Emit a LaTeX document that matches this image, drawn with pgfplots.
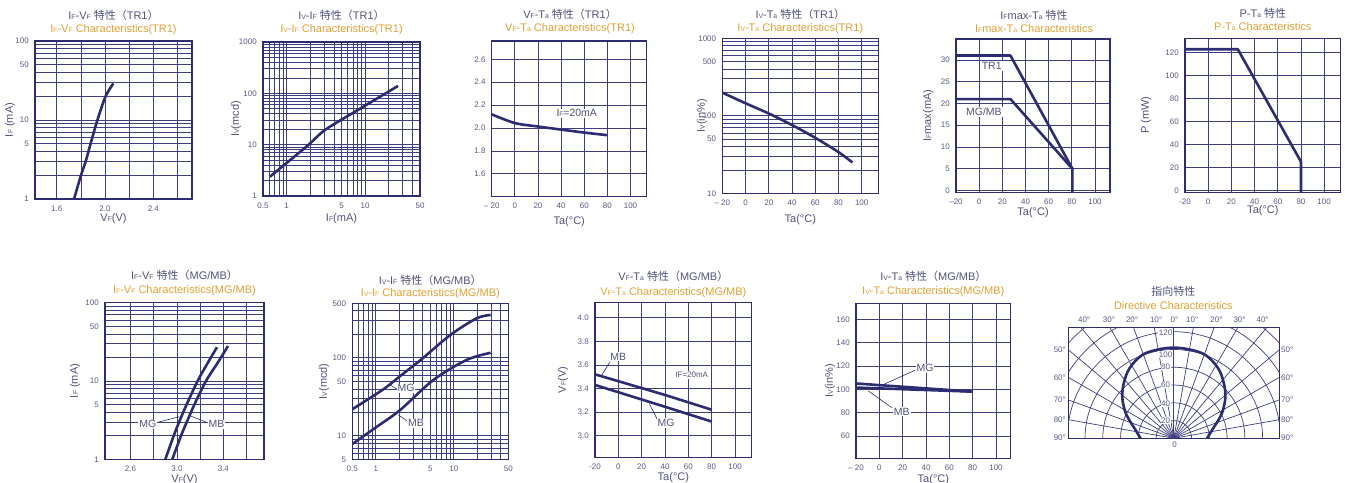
\documentclass[border=0pt]{standalone}
\usepackage{graphicx}
\usepackage{pgfplots}
\pgfplotsset{compat=1.18}
\usepackage{fontspec}
\setmainfont{Liberation Sans}
\newfontfamily\cjk{Noto Sans CJK JP}
\definecolor{navy}{RGB}{44,44,112}
\definecolor{gridc}{RGB}{62,62,128}
\definecolor{titc}{RGB}{82,82,125}
\definecolor{tickc}{RGB}{88,88,135}
\definecolor{orng}{RGB}{226,160,52}
\newcommand\sm[1]{\scalebox{0.62}{#1}}
\newcommand\tickf{\fontsize{8bp}{9bp}\selectfont}
\newcommand\labf{\fontsize{11bp}{12bp}\selectfont}
\newcommand\lblf{\fontsize{10.5bp}{12bp}\selectfont}
\newcommand\tita{\fontsize{11bp}{12bp}\selectfont}
\newcommand\titb{\fontsize{11bp}{12bp}\selectfont}
\newcommand\ttl[5]{\node[text=titc,font=\tita,inner sep=0] at (#1bp,#2bp) {#4};
  \node[text=orng,font=\titb,inner sep=0] at (#1bp,#3bp) {#5};}
\tikzset{lbl/.style={fill=white,inner sep=1bp,text=titc,font=\lblf},
  pl/.style={font=\tickf,text=tickc},
  rl/.style={fill=white,inner sep=0.6bp,font=\tickf,text=tickc}}
\pgfplotsset{
 panel/.style={scale only axis, anchor=south west,
   axis line style={navy,line width=1.2bp},
   grid=both, major grid style={gridc,line width=0.7bp}, minor grid style={gridc,line width=0.7bp},
   major tick length=0pt, minor tick length=0pt,
   tick label style={font=\tickf,text=tickc},
   xticklabel style={yshift=-3bp}, yticklabel style={xshift=-2.7bp},
   label style={font=\labf,text=titc},
   /pgf/number format/assume math mode=true},
 xl/.style={xlabel style={at={(axis description cs:0.5,#1)},anchor=center}},
 yl/.style={ylabel style={at={(axis description cs:#1,0.5)},anchor=center}},
 crv/.style={navy,line width=2.6bp,no markers,line join=round},
 ldr/.style={navy,line width=0.6bp,no markers},
}
\begin{document}
\begin{tikzpicture}[x=1bp,y=1bp]
\path[use as bounding box] (0,0) rectangle (1345,483);

% ---------- P1 IF-VF TR1
\begin{axis}[panel, at={(35bp,284bp)}, width=157bp, height=158bp,
 xmin=1.42, xmax=2.72, ymode=log, ymin=1, ymax=100,
 xtick={1.6,2.0,2.4}, xticklabels={1.6,2.0,2.4}, minor xtick={1.8,2.2,2.6},
 ytick={1,5,10,50,100}, yticklabels={1,5,10,50,100},
 minor ytick={2,3,4,6,7,8,9,20,30,40,60,70,80,90},
 xlabel={V\sm{F}(V)}, ylabel={I\sm{F} (mA)}, xl=-0.122, yl=-0.159]
\addplot[crv,smooth] coordinates {(1.743,1) (1.801,2) (1.84,3) (1.88,5) (1.937,10) (2.005,20) (2.069,29)};
\end{axis}

% ---------- P2 IV-IF TR1
\begin{axis}[panel, at={(263bp,287bp)}, width=157bp, height=154bp,
 xmode=log, ymode=log, xmin=0.5, xmax=50, ymin=1, ymax=1000,
 xtick={0.5,1,5,10,50}, xticklabels={0.5,1,5,10,50},
 minor xtick={0.6,0.7,0.8,0.9,2,3,4,6,7,8,9,20,30,40},
 ytick={1,10,100,1000}, yticklabels={1,10,100,1000},
 minor ytick={2,3,4,5,6,7,8,9,20,30,40,50,60,70,80,90,200,300,400,500,600,700,800,900},
 xlabel={I\sm{F}(mA)}, ylabel={I\sm{V}(mcd)}, xl=-0.145, yl=-0.172]
\addplot[crv,smooth] coordinates {(0.614,2.38) (1,4.4) (1.89,9.85) (3.09,19.4) (7.45,44) (26.2,139)};
\end{axis}

% ---------- P3 VF-Ta TR1
\begin{axis}[panel, at={(491.7bp,286.3bp)}, width=155bp, height=155.7bp,
 xmin=-20, xmax=114, ymin=1.4, ymax=2.76,
 xtick={-20,0,20,40,60,80,100}, xticklabels={– 20,0,20,40,60,80,100},
 ytick={1.6,1.8,2.0,2.2,2.4,2.6}, yticklabels={1.6,1.8,2.0,2.2,2.4,2.6},
 xlabel={Ta(°C)}, xl=-0.161]
\addplot[crv,smooth] coordinates {(-20,2.119) (0,2.043) (20,2.013) (40,1.986) (60,1.96) (80,1.937)};
\node[lbl] at (axis cs:53.5,2.128) {I\sm{F}=20mA};
\end{axis}

% ---------- P4 IV-Ta TR1
\begin{axis}[panel, at={(722.3bp,289.7bp)}, width=156bp, height=155bp,
 xmin=-20, xmax=114.3, ymode=log, ymin=10, ymax=1000,
 xtick={-20,0,20,40,60,80,100}, xticklabels={– 20,0,20,40,60,80,100},
 ytick={10,50,100,500,1000}, yticklabels={10,50,100,500,1000},
 minor ytick={20,30,40,60,70,80,90,200,300,400,600,700,800,900},
 xlabel={Ta(°C)}, ylabel={I\sm{V}(in\%)}, xl=-0.172, yl=-0.13]
\addplot[crv,smooth] coordinates {(-20,199) (0,145) (20,107) (40,76) (60,52) (80,34) (92,25)};
\end{axis}

% ---------- P5 IFmax-Ta
\begin{axis}[panel, at={(956bp,290.7bp)}, width=154bp, height=153.3bp,
 xmin=-20, xmax=113, ymin=-0.4, ymax=34.8,
 xtick={-20,0,20,40,60,80,100}, xticklabels={–20,0,20,40,60,80,100},
 ytick={0,5,10,15,20,25,30}, yticklabels={0,5,10,15,20,25,30},
 xlabel={Ta(°C)}, ylabel={I\sm{F}max(mA)}, xl=-0.133, yl=-0.18]
\addplot[crv] coordinates {(-20,31) (27,31) (80.5,5) (80.5,-0.4)};
\addplot[crv] coordinates {(-20,21) (27,21) (80.5,5)};
\node[lbl] at (axis cs:10.8,28.6) {TR1};
\node[lbl] at (axis cs:4.1,18.1) {MG/MB};
\end{axis}

% ---------- P6 P-Ta
\begin{axis}[panel, at={(1185bp,290.7bp)}, width=155.7bp, height=154bp,
 xmin=-20, xmax=114.3, ymin=-1.4, ymax=132.5,
 xtick={-20,0,20,40,60,80,100}, xticklabels={-20,0,20,40,60,80,100},
 ytick={0,20,40,60,80,100,120}, yticklabels={0,20,40,60,80,100,120},
 xlabel={Ta(°C)}, ylabel={P (mW)}, xl=-0.119, yl=-0.25]
\addplot[crv] coordinates {(-20,123) (25.5,123) (80,25.2) (80,-1.4)};
\end{axis}

% ---------- P7 IF-VF MG/MB
\begin{axis}[panel, at={(105bp,23.7bp)}, width=159bp, height=156.6bp,
 xmin=2.38, xmax=3.75, ymode=log, ymin=1, ymax=100,
 xtick={2.6,3.0,3.4}, xticklabels={2.6,3.0,3.4}, minor xtick={2.8,3.2,3.6},
 ytick={1,5,10,50,100}, yticklabels={1,5,10,50,100},
 minor ytick={2,3,4,6,7,8,9,20,30,40,60,70,80,90},
 xlabel={V\sm{F}(V)}, ylabel={I\sm{F} (mA)}, xl=-0.132, yl=-0.189]
\addplot[crv,smooth] coordinates {(2.90,1) (2.972,2) (3.019,3) (3.083,5) (3.178,10) (3.265,17) (3.345,27)};
\addplot[crv,smooth] coordinates {(2.96,1) (3.035,2) (3.085,3) (3.15,5) (3.25,10) (3.35,17) (3.44,28)};
\addplot[ldr] coordinates {(2.836,2.97) (3.02,3.5)};
\addplot[ldr] coordinates {(3.254,2.97) (3.118,3.57)};
\node[lbl] at (axis cs:2.75,2.8) {MG};
\node[lbl] at (axis cs:3.34,2.8) {MB};
\end{axis}

% ---------- P8 IV-IF MG/MB
\begin{axis}[panel, at={(352.3bp,23.7bp)}, width=156bp, height=156bp,
 xmode=log, ymode=log, xmin=0.5, xmax=50, ymin=5, ymax=500,
 xtick={0.5,1,5,10,50}, xticklabels={0.5,1,5,10,50},
 minor xtick={0.6,0.7,0.8,0.9,2,3,4,6,7,8,9,20,30,40},
 ytick={5,10,50,100,500}, yticklabels={5,10,50,100,500},
 minor ytick={6,7,8,9,20,30,40,60,70,80,90,200,300,400},
 ylabel={I\sm{V}(mcd)}, yl=-0.181]
\addplot[crv,smooth] coordinates {(0.5,21.9) (1.25,39.5) (2.2,61.6) (3.87,96) (8.96,195) (19.6,321) (29.7,354)};
\addplot[crv,smooth] coordinates {(0.5,7.85) (1,12.8) (2.04,21.3) (5.47,52) (14.6,94) (29.7,116)};
\addplot[ldr] coordinates {(1.88,39.5) (1.55,44.5)};
\addplot[ldr] coordinates {(2.6,15.2) (1.95,18.5)};
\node[lbl] at (axis cs:2.44,40.7) {MG};
\node[lbl] at (axis cs:3.28,14.5) {MB};
\end{axis}

% ---------- P9 VF-Ta MG/MB
\begin{axis}[panel, at={(595bp,25.7bp)}, width=156.7bp, height=154.6bp,
 xmin=-20, xmax=114.3, ymin=2.817, ymax=4.127,
 xtick={-20,0,20,40,60,80,100}, xticklabels={-20,0,20,40,60,80,100},
 ytick={3.0,3.2,3.4,3.6,3.8,4.0}, yticklabels={3.0,3.2,3.4,3.6,3.8,4.0},
 xlabel={Ta(°C)}, ylabel={V\sm{F}(V)}, xl=-0.129, yl=-0.204]
\addplot[crv] coordinates {(-20,3.52) (40,3.345) (80,3.22)};
\addplot[crv] coordinates {(-20,3.43) (40,3.245) (80,3.12)};
\addplot[ldr] coordinates {(-7.1,3.625) (-14.3,3.513)};
\addplot[ldr] coordinates {(33.4,3.137) (26.5,3.273)};
\node[lbl] at (axis cs:0,3.668) {MB};
\node[lbl] at (axis cs:40.9,3.108) {MG};
\node[lbl,font=\tickf] at (axis cs:62.9,3.513) {IF=20mA};
\end{axis}

% ---------- P10 IV-Ta MG/MB
\begin{axis}[panel, at={(856bp,24.7bp)}, width=154.7bp, height=155bp,
 xmin=-20, xmax=112.6, ymin=40.9, ymax=173.7,
 xtick={-20,0,20,40,60,80,100}, xticklabels={– 20,0,20,40,60,80,100},
 ytick={60,80,100,120,140,160}, yticklabels={60,80,100,120,140,160},
 xlabel={Ta(°C)}, ylabel={I\sm{V}(in\%)}, xl=-0.14, yl=-0.168]
\addplot[crv] coordinates {(-20,105) (80,98)};
\addplot[crv] coordinates {(-20,101.5) (80,98)};
\addplot[ldr] coordinates {(30.6,116.3) (0.6,102.8)};
\addplot[ldr] coordinates {(10.6,84.3) (-9.4,98.6)};
\node[lbl] at (axis cs:39.1,118) {MG};
\node[lbl] at (axis cs:19.2,80.8) {MB};
\end{axis}

% ---------- P11 directive
\begin{axis}[scale only axis, anchor=south west, at={(1068.3bp,44.7bp)}, width=211bp, height=110.6bp,
 xmin=-118.8, xmax=118.8, ymin=0, ymax=124.5, axis line style={navy,line width=1.2bp},
 xtick=\empty, ytick=\empty, clip=false]
\draw[gridc,line width=0.7bp] (axis cs:20,0) arc[start angle=0,end angle=180,radius=17.76bp];
\draw[gridc,line width=0.7bp] (axis cs:40,0) arc[start angle=0,end angle=180,radius=35.52bp];
\draw[gridc,line width=0.7bp] (axis cs:60,0) arc[start angle=0,end angle=180,radius=53.28bp];
\draw[gridc,line width=0.7bp] (axis cs:80,0) arc[start angle=0,end angle=180,radius=71.04bp];
\draw[gridc,line width=0.7bp] (axis cs:100,0) arc[start angle=0,end angle=180,radius=88.8bp];
\draw[gridc,line width=0.7bp] (axis cs:118.76,17.22) arc[start angle=8.25,end angle=171.75,radius=106.56bp];
\draw[gridc,line width=0.7bp] (axis cs:118.8,74.0) arc[start angle=31.9,end angle=62.8,radius=124.32bp];
\draw[gridc,line width=0.7bp] (axis cs:-64.0,124.5) arc[start angle=117.2,end angle=148.1,radius=124.32bp];
\draw[gridc,line width=0.7bp] (axis cs:118.8,107.2) arc[start angle=42.05,end angle=51.1,radius=142.08bp];
\draw[gridc,line width=0.7bp] (axis cs:-100.5,124.5) arc[start angle=128.9,end angle=137.95,radius=142.08bp];
\draw[gridc,line width=1.0bp] (axis cs:0,0) -- (axis cs:0,124.5);
\draw[gridc,line width=0.7bp] (axis cs:0,0) -- (axis cs:21.95,124.5);
\draw[gridc,line width=0.7bp] (axis cs:0,0) -- (axis cs:45.31,124.5);
\draw[gridc,line width=0.7bp] (axis cs:0,0) -- (axis cs:71.88,124.5);
\draw[gridc,line width=0.7bp] (axis cs:0,0) -- (axis cs:104.47,124.5);
\draw[gridc,line width=0.7bp] (axis cs:0,0) -- (axis cs:118.8,99.69);
\draw[gridc,line width=0.7bp] (axis cs:0,0) -- (axis cs:118.8,68.59);
\draw[gridc,line width=0.7bp] (axis cs:0,0) -- (axis cs:118.8,43.24);
\draw[gridc,line width=0.7bp] (axis cs:0,0) -- (axis cs:118.8,20.95);
\draw[gridc,line width=0.7bp] (axis cs:0,0) -- (axis cs:-21.95,124.5);
\draw[gridc,line width=0.7bp] (axis cs:0,0) -- (axis cs:-45.31,124.5);
\draw[gridc,line width=0.7bp] (axis cs:0,0) -- (axis cs:-71.88,124.5);
\draw[gridc,line width=0.7bp] (axis cs:0,0) -- (axis cs:-104.47,124.5);
\draw[gridc,line width=0.7bp] (axis cs:0,0) -- (axis cs:-118.8,99.69);
\draw[gridc,line width=0.7bp] (axis cs:0,0) -- (axis cs:-118.8,68.59);
\draw[gridc,line width=0.7bp] (axis cs:0,0) -- (axis cs:-118.8,43.24);
\draw[gridc,line width=0.7bp] (axis cs:0,0) -- (axis cs:-118.8,20.95);
\addplot[crv,smooth,tension=0.6,data cs=polar] coordinates {
 (0,37.5) (12.2,44.1) (23.7,56.1) (30,64) (38.9,74.6) (48,84) (57.7,93.3) (69.2,100.3) (80,101.5) (90,102)
 (100,101.5) (110.8,100.3) (122.3,93.3) (132,84) (141.1,74.6) (150,64) (156.3,56.1) (167.8,44.1) (180,37.5)};
\node[rl] at (axis cs:-9.3,118.9) {120};
\node[rl] at (axis cs:-9.3,94.6) {100};
\node[rl] at (axis cs:-9.3,80.6) {80};
\node[rl] at (axis cs:-9.3,60) {60};
\node[rl] at (axis cs:-9.3,39.4) {40};
\node[rl] at (axis cs:-9.3,19.8) {20};
\node[pl] at (axis cs:0.8,-6.8) {0};
\node[pl] at (axis cs:-101,134) {40°};
\node[pl] at (axis cs:-73,134) {30°};
\node[pl] at (axis cs:-47,134) {20°};
\node[pl] at (axis cs:-20,134) {10°};
\node[pl] at (axis cs:0.8,134) {0°};
\node[pl] at (axis cs:20.7,134) {10°};
\node[pl] at (axis cs:48,134) {20°};
\node[pl] at (axis cs:74,134) {30°};
\node[pl] at (axis cs:100,134) {40°};
\node[pl] at (axis cs:-128.4,99.4) {50°};
\node[pl] at (axis cs:-128.4,68.7) {60°};
\node[pl] at (axis cs:-128.4,43.1) {70°};
\node[pl] at (axis cs:-128.4,20.6) {80°};
\node[pl] at (axis cs:-128.4,0.7) {90°};
\node[pl] at (axis cs:127.7,99.4) {50°};
\node[pl] at (axis cs:127.7,68.7) {60°};
\node[pl] at (axis cs:127.7,43.1) {70°};
\node[pl] at (axis cs:127.7,20.6) {80°};
\node[pl] at (axis cs:127.7,0.7) {90°};
\end{axis}

% ---------- titles
\ttl{113.5}{468}{453}{I\sm{F}-V\sm{F} {\cjk 特性（}TR1{\cjk ）}}{I\sm{F}-V\sm{F} Characteristics(TR1)}
\ttl{341.5}{468}{453}{I\sm{V}-I\sm{F} {\cjk 特性（}TR1{\cjk ）}}{I\sm{V}-I\sm{F} Characteristics(TR1)}
\ttl{570}{469}{454.7}{V\sm{F}-T\sm{a} {\cjk 特性（}TR1{\cjk ）}}{V\sm{F}-T\sm{a} Characteristics(TR1)}
\ttl{800.3}{468.5}{454.5}{I\sm{V}-T\sm{a} {\cjk 特性（}TR1{\cjk ）}}{I\sm{V}-T\sm{a} Characteristics(TR1)}
\ttl{1034}{468}{454.7}{I\sm{F}max-T\sm{a} {\cjk 特性}}{I\sm{F}max-T\sm{a} Characteristics}
\ttl{1262.8}{469.7}{456.3}{P-T\sm{a} {\cjk 特性}}{P-T\sm{a} Characteristics}
\ttl{184.5}{208}{192.3}{I\sm{F}-V\sm{F} {\cjk 特性（}MG/MB{\cjk ）}}{I\sm{F}-V\sm{F} Characteristics(MG/MB)}
\ttl{430.3}{203}{189.7}{I\sm{V}-I\sm{F} {\cjk 特性（}MG/MB{\cjk ）}}{I\sm{V}-I\sm{F} Characteristics(MG/MB)}
\ttl{673.3}{207}{190.3}{V\sm{F}-T\sm{a} {\cjk 特性（}MG/MB{\cjk ）}}{V\sm{F}-T\sm{a} Characteristics(MG/MB)}
\ttl{933.3}{207}{191.3}{I\sm{V}-T\sm{a} {\cjk 特性（}MG/MB{\cjk ）}}{I\sm{V}-T\sm{a} Characteristics(MG/MB)}
\ttl{1173.3}{191.3}{177}{{\cjk 指向特性}}{Directive Characteristics}
\end{tikzpicture}
\end{document}
